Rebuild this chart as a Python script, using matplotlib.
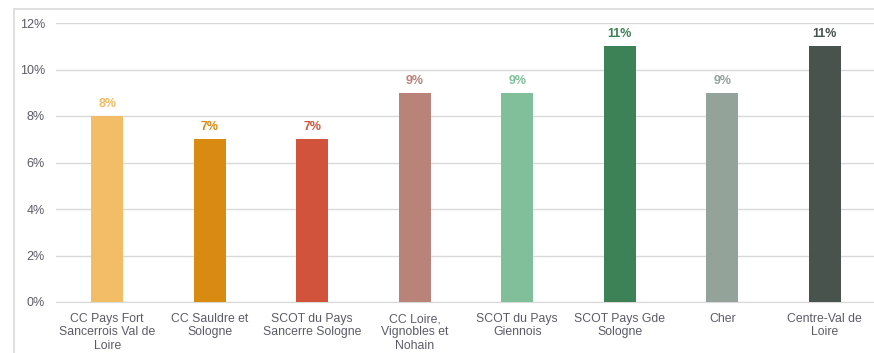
import matplotlib
matplotlib.use("Agg")
import matplotlib.pyplot as plt
from matplotlib.patches import Rectangle
from matplotlib.ticker import FuncFormatter

categories = ["CC Pays Fort\nSancerrois Val de\nLoire", "CC Sauldre et\nSologne",
              "SCOT du Pays\nSancerre Sologne", "CC Loire,\nVignobles et\nNohain",
              "SCOT du Pays\nGiennois", "SCOT Pays Gde\nSologne", "Cher", "Centre-Val de\nLoire"]
values = [8, 7, 7, 9, 9, 11, 9, 11]
colors = ["#F3BC66", "#D98A10", "#D1533B", "#BA8379", "#80BF99", "#3D8157", "#93A399", "#49534D"]

plt.rcParams['font.family'] = ['Liberation Sans', 'DejaVu Sans']
W, H = 874, 353
fig = plt.figure(figsize=(W/100, H/100), dpi=100)
fig.patches.append(Rectangle((14/W, -0.1), 1.1, (H-9)/H + 0.1, transform=fig.transFigure,
                             fill=False, edgecolor="#D9D9D9", linewidth=1.2))
ax = fig.add_axes([56/W, 1-302/H, (876-56)/W, (302-23)/H])
x = range(len(categories))
ax.bar(x, values, width=0.31, color=colors, zorder=3)
for i, v in enumerate(values):
    ax.text(i, v + 0.25, f"{v}%", ha="center", va="bottom", color=colors[i],
            fontsize=9, fontweight="bold")
ax.set_xlim(-0.5, len(categories) - 0.5)
ax.set_ylim(0, 12)
ax.set_yticks(range(0, 13, 2))
ax.yaxis.set_major_formatter(FuncFormatter(lambda v, p: f"{v:.0f}%"))
ax.set_xticks(list(x))
ax.set_xticklabels(categories, fontsize=8.8, color="#5B5B66", linespacing=1.14)
ax.tick_params(axis="y", labelsize=9, labelcolor="#5B5B66", length=0, pad=8)
ax.tick_params(axis="x", length=0, pad=8)
ax.grid(axis="y", color="#D9D9D9", linewidth=1.0, zorder=0)
for s in ["top", "right", "left"]:
    ax.spines[s].set_visible(False)
ax.spines["bottom"].set_color("#D9D9D9")
fig.savefig("out.png", dpi=100)
